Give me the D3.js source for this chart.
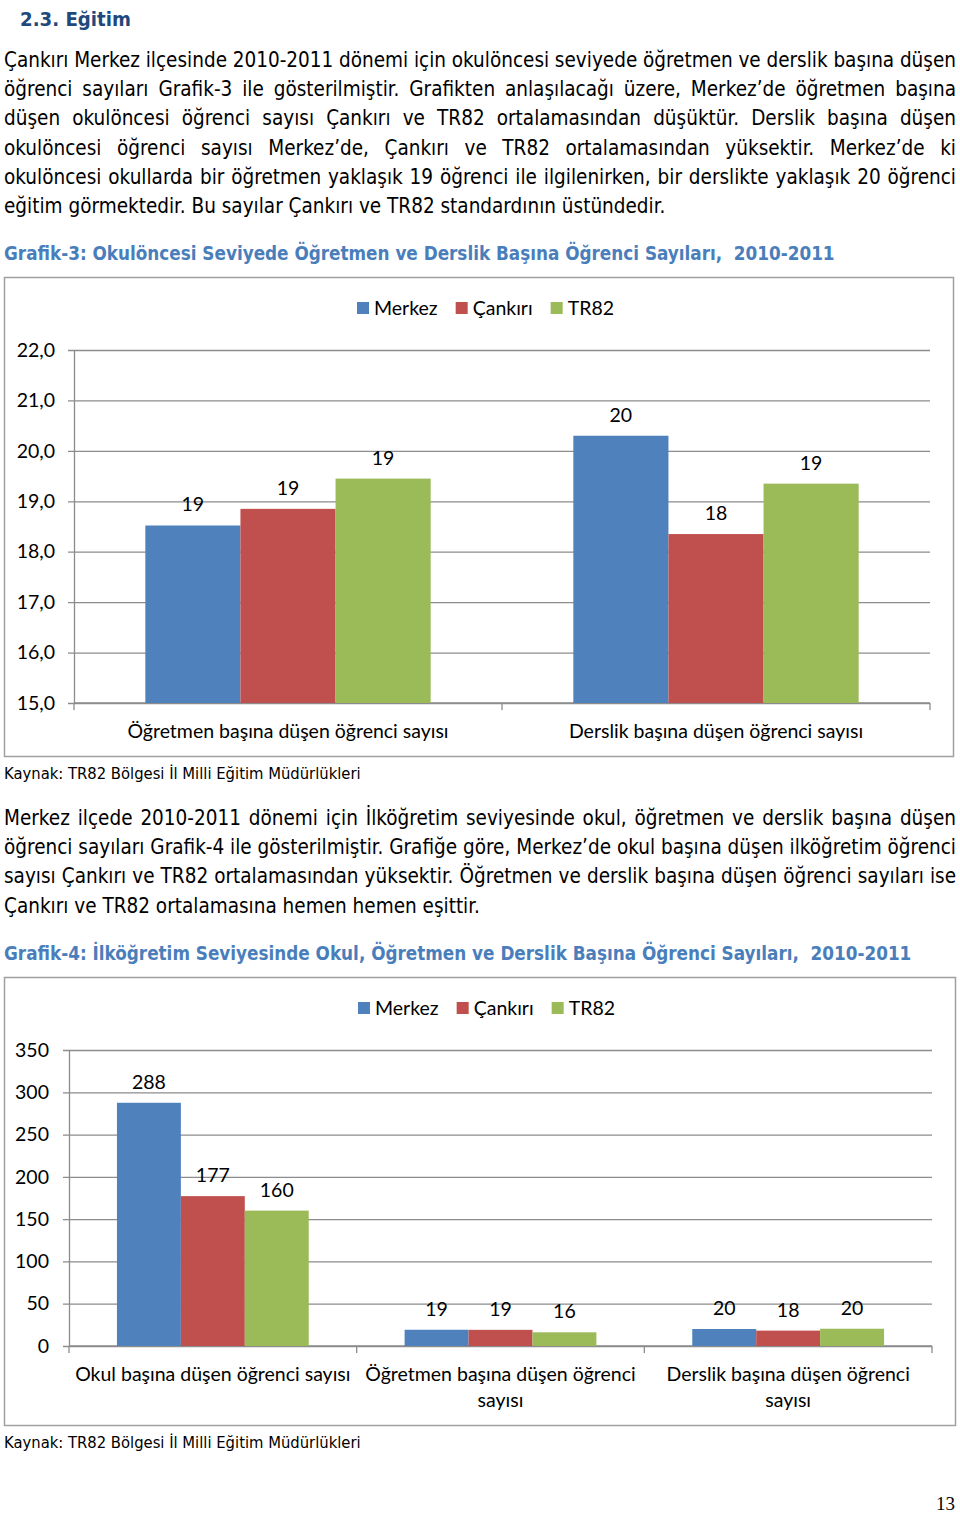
<!DOCTYPE html>
<html>
<head>
<meta charset="utf-8">
<script src="https://cdn.jsdelivr.net/npm/d3@7"></script>
<style>
  body { margin: 0; background: #fff; }
  svg { display: block; }
</style>
</head>
<body>
<script>
// ---- text of the page ----
const heading = "2.3. Eğitim";
const para1 = [
  "Çankırı Merkez ilçesinde 2010-2011 dönemi için okulöncesi seviyede öğretmen ve derslik başına düşen",
  "öğrenci sayıları Grafik-3 ile gösterilmiştir. Grafikten anlaşılacağı üzere, Merkez’de öğretmen başına",
  "düşen okulöncesi öğrenci sayısı Çankırı ve TR82 ortalamasından düşüktür. Derslik başına düşen",
  "okulöncesi öğrenci sayısı Merkez’de, Çankırı ve TR82 ortalamasından yüksektir. Merkez’de ki",
  "okulöncesi okullarda bir öğretmen yaklaşık 19 öğrenci ile ilgilenirken, bir derslikte yaklaşık 20 öğrenci",
  "eğitim görmektedir. Bu sayılar Çankırı ve TR82 standardının üstündedir."
];
const para2 = [
  "Merkez ilçede 2010-2011 dönemi için İlköğretim seviyesinde okul, öğretmen ve derslik başına düşen",
  "öğrenci sayıları Grafik-4 ile gösterilmiştir. Grafiğe göre, Merkez’de okul başına düşen ilköğretim öğrenci",
  "sayısı Çankırı ve TR82 ortalamasından yüksektir. Öğretmen ve derslik başına düşen öğrenci sayıları ise",
  "Çankırı ve TR82 ortalamasına hemen hemen eşittir."
];
const title3 = "Grafik-3: Okulöncesi Seviyede Öğretmen ve Derslik Başına Öğrenci Sayıları,  2010-2011";
const title4 = "Grafik-4: İlköğretim Seviyesinde Okul, Öğretmen ve Derslik Başına Öğrenci Sayıları,  2010-2011";
const sourceText = "Kaynak: TR82 Bölgesi İl Milli Eğitim Müdürlükleri";
const pageNumber = "13";

// ---- chart data ----
const seriesNames = ["Merkez", "Çankırı", "TR82"];

const categories3 = ["Öğretmen başına düşen öğrenci sayısı", "Derslik başına düşen öğrenci sayısı"];
const merkez3  = [18.52, 20.3];
const cankiri3 = [18.85, 18.35];
const tr82_3   = [19.45, 19.35];
const ticks3   = [15, 16, 17, 18, 19, 20, 21, 22];

const categories4 = ["Okul başına düşen öğrenci sayısı", "Öğretmen başına düşen öğrenci sayısı", "Derslik başına düşen öğrenci sayısı"];
const merkez4  = [287.6, 19.2, 20.1];
const cankiri4 = [177.2, 19.1, 18.2];
const tr82_4   = [160.1, 16.2, 20.4];
const ticks4   = [0, 50, 100, 150, 200, 250, 300, 350];

const colors = ["#4F81BD", "#C0504D", "#9BBB59"];
const bodyFont = "'DejaVu Sans Condensed', 'DejaVu Sans', sans-serif";
const chartFont = "Lato, 'Open Sans', sans-serif";
const chartSize = 19.5;

const svg = d3.select("body").append("svg")
    .attr("width", 960)
    .attr("height", 1516);

// hidden text used to measure strings
const meas = svg.append("text")
    .attr("visibility", "hidden")
    .style("font-stretch", "condensed")
    .style("white-space", "pre");
function textWidth(str, size, family, weight) {
  meas.attr("font-size", size).attr("font-family", family)
      .attr("font-weight", weight || "normal").text(str);
  return meas.node().getComputedTextLength();
}
function fitSize(str, target, family, weight) {
  return 20 * target / textWidth(str, 20, family, weight);
}

const bodySize = fitSize(para1[5], 662, bodyFont);
const titleSize = fitSize(title3, 831, bodyFont, "bold");
const headSize = fitSize(heading, 111, bodyFont, "bold");
const srcSize = fitSize(sourceText, 357, bodyFont);

function drawLine(str, x, y, width, size, justify) {
  const t = svg.append("text")
      .attr("y", y)
      .attr("font-size", size)
      .attr("font-family", bodyFont)
      .style("font-stretch", "condensed")
      .attr("fill", "#000");
  if (!justify) { t.attr("x", x).text(str); return; }
  const words = str.split(" ");
  const widths = words.map(w => textWidth(w, size, bodyFont));
  const gap = (width - d3.sum(widths)) / (words.length - 1);
  let cx = x;
  words.forEach((w, i) => {
    t.append("tspan").attr("x", cx).text(w);
    cx += widths[i] + gap;
  });
}

function drawParagraph(lines, y0, step) {
  lines.forEach((l, i) => drawLine(l, 4, y0 + i * step, 952, bodySize, i < lines.length - 1));
}

function drawTitle(str, x, y, size, color) {
  svg.append("text")
      .attr("x", x).attr("y", y)
      .attr("font-size", size)
      .attr("font-family", bodyFont)
      .style("font-stretch", "condensed")
      .attr("font-weight", "bold")
      .attr("fill", color)
      .style("white-space", "pre")
      .text(str);
}

function drawSource(y) {
  svg.append("text")
      .attr("x", 4).attr("y", y)
      .attr("font-size", srcSize)
      .attr("font-family", bodyFont)
      .style("font-stretch", "condensed")
      .text(sourceText);
}

function wrapLines(str, maxWidth, size) {
  const words = str.split(" ");
  const lines = [];
  let cur = "";
  words.forEach(w => {
    const test = cur ? cur + " " + w : w;
    if (cur && textWidth(test, size, chartFont) > maxWidth) { lines.push(cur); cur = w; }
    else cur = test;
  });
  lines.push(cur);
  return lines;
}

function drawChart(o) {
  const g = svg.append("g");

  // outer frame
  g.append("rect")
      .attr("x", o.box[0]).attr("y", o.box[1])
      .attr("width", o.box[2]).attr("height", o.box[3])
      .attr("fill", "none")
      .attr("stroke", "#a0a0a0")
      .attr("stroke-width", 1.5);

  const y = d3.scaleLinear()
      .domain(d3.extent(o.ticks))
      .range([o.bottom, o.top]);

  const x = d3.scaleBand()
      .domain(o.categories)
      .range([o.left, o.right]);

  const xs = d3.scaleBand()
      .domain(seriesNames)
      .range([0, x.bandwidth()])
      .paddingOuter(0.75);

  // y axis with gridlines
  const yAxisG = g.append("g")
      .attr("transform", `translate(${o.left},0)`)
      .call(d3.axisLeft(y)
          .tickValues(o.ticks)
          .tickSize(-(o.right - o.left))
          .tickSizeOuter(0)
          .tickPadding(o.tickPadding)
          .tickFormat(o.format));
  yAxisG.attr("font-family", chartFont).attr("font-size", chartSize);
  yAxisG.select(".domain").attr("stroke", "#8c8c8c").attr("stroke-width", 1.3);
  yAxisG.selectAll(".tick line")
      .attr("x1", -6)
      .attr("stroke", "#8c8c8c")
      .attr("stroke-width", 1.3);
  yAxisG.selectAll(".tick text").attr("fill", "#000");

  // x axis line with ticks at the category boundaries
  const baseY = y(o.ticks[0]);
  g.append("line")
      .attr("x1", o.left).attr("x2", o.right)
      .attr("y1", baseY).attr("y2", baseY)
      .attr("stroke", "#8c8c8c").attr("stroke-width", 1.3);
  const bounds = o.categories.map(c => x(c)).concat([o.right]);
  g.selectAll(".xtick").data(bounds).join("line")
      .attr("x1", d => d).attr("x2", d => d)
      .attr("y1", baseY).attr("y2", baseY + 7)
      .attr("stroke", "#8c8c8c").attr("stroke-width", 1.3);

  // bars
  o.series.forEach((vals, si) => {
    const name = seriesNames[si];
    g.selectAll(".bar" + si).data(vals).join("rect")
        .attr("x", (d, i) => x(o.categories[i]) + xs(name))
        .attr("y", d => y(d))
        .attr("width", xs.bandwidth())
        .attr("height", d => baseY - y(d))
        .attr("fill", colors[si]);

    g.selectAll(".lab" + si).data(vals).join("text")
        .attr("x", (d, i) => x(o.categories[i]) + xs(name) + xs.bandwidth() / 2)
        .attr("y", d => y(d) - 14)
        .attr("text-anchor", "middle")
        .attr("font-family", chartFont)
        .attr("font-size", chartSize)
        .attr("fill", "#000")
        .text(d => d3.format(".0f")(d));
  });

  // category labels
  o.categories.forEach(c => {
    const lines = wrapLines(c, x.bandwidth(), chartSize);
    const t = g.append("text")
        .attr("text-anchor", "middle")
        .attr("font-family", chartFont)
        .attr("font-size", chartSize)
        .attr("fill", "#000");
    lines.forEach((l, i) => {
      t.append("tspan")
          .attr("x", x(c) + x.bandwidth() / 2)
          .attr("y", o.catY + i * 26)
          .text(l);
    });
  });

  // legend
  let lx = o.legendX;
  seriesNames.forEach((name, i) => {
    g.append("rect")
        .attr("x", lx).attr("y", o.legendY - 6)
        .attr("width", 12).attr("height", 12)
        .attr("fill", colors[i]);
    g.append("text")
        .attr("x", lx + 17).attr("y", o.legendY + 7)
        .attr("font-family", chartFont)
        .attr("font-size", chartSize)
        .attr("fill", "#000")
        .text(name);
    lx += 17 + textWidth(name, chartSize, chartFont) + 18;
  });
}

const commaFmt = d3.formatLocale({decimal: ",", thousands: ".", grouping: [3], currency: ["", ""]}).format(".1f");

// ---- page ----
drawTitle(heading, 20, 26, headSize, "#1F497D");
drawParagraph(para1, 67, 29.2);
drawTitle(title3, 4, 260, titleSize, "#4A7EBB");

drawChart({
  box: [4.5, 277.5, 949, 479],
  left: 74, right: 930, top: 350, bottom: 703,
  ticks: ticks3, format: commaFmt, tickPadding: 19,
  categories: categories3,
  series: [merkez3, cankiri3, tr82_3],
  catY: 738,
  legendX: 357, legendY: 308
});
drawSource(779);

drawParagraph(para2, 825, 29.2);
drawTitle(title4, 4, 960, titleSize, "#4A7EBB");

drawChart({
  box: [4.5, 977.5, 951, 448],
  left: 69, right: 932, top: 1050, bottom: 1346,
  ticks: ticks4, format: d3.format("d"), tickPadding: 20,
  categories: categories4,
  series: [merkez4, cankiri4, tr82_4],
  catY: 1381,
  legendX: 358, legendY: 1008
});
drawSource(1448);

svg.append("text")
    .attr("x", 955).attr("y", 1510)
    .attr("text-anchor", "end")
    .attr("font-family", "'Liberation Serif', serif")
    .attr("font-size", 19)
    .text(pageNumber);
</script>
</body>
</html>
